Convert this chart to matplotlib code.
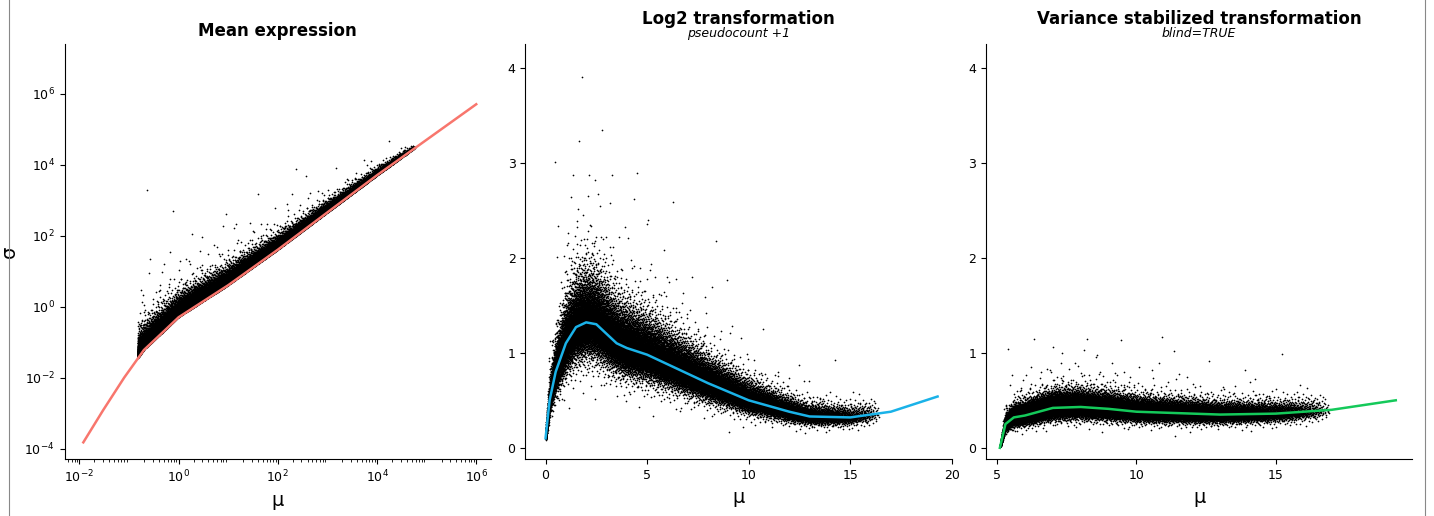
import numpy as np
import matplotlib.pyplot as plt

# trend lines
mean_mu = [0.012, 0.03, 0.08, 0.2, 0.5, 1, 10, 100, 1e3, 1e4, 1e5, 1e6]
mean_sd = [1.5e-4, 1.2e-3, 1e-2, 0.06, 0.2, 0.5, 4, 40, 450, 5e3, 5e4, 5e5]

log2_mu = [0, 0.2, 0.5, 1, 1.5, 2, 2.5, 3, 3.5, 4, 5, 6, 7, 8, 10, 12, 13, 15, 17, 19.3]
log2_sd = [0.1, 0.5, 0.8, 1.1, 1.27, 1.32, 1.3, 1.2, 1.1, 1.05, 0.98, 0.88, 0.78, 0.68, 0.5, 0.38, 0.33, 0.32, 0.38, 0.54]

vst_mu = [5.1, 5.3, 5.6, 6.0, 7.0, 8.0, 9.0, 10, 12, 13, 15, 17, 19.3]
vst_sd = [0.0, 0.25, 0.32, 0.34, 0.42, 0.43, 0.41, 0.38, 0.36, 0.35, 0.36, 0.4, 0.5]

# cloud shape per panel: x-range, taper power, relative spread
cloud_cfg = {
    "mean": dict(lo=np.log10(0.15), hi=np.log10(6e4), p=1.6, spread=0.3),
    "log2": dict(lo=0.0, hi=16.5, p=1.9, spread=0.22),
    "vst": dict(lo=5.1, hi=17.0, p=2.0, spread=0.2),
}
N_PTS = 30000


def halton(n, base):
    seq = np.zeros(n)
    for i in range(n):
        f, r, k = 1.0, 0.0, i + 1
        while k > 0:
            f /= base
            r += f * (k % base)
            k //= base
        seq[i] = r
    return seq


u1 = halton(N_PTS, 2)
u2 = halton(N_PTS, 3)
u3 = halton(N_PTS, 5)


def cloud(cfg, tx, ty, logy=False):
    t = 1 - (1 - u1) ** (1 / cfg["p"])
    x = cfg["lo"] + (cfg["hi"] - cfg["lo"]) * t
    z = np.log(u2 / (1 - u2)) * 0.5
    z = np.where(z < 0, z * 0.6, z * (1 + 3.0 * (u3 > 0.985)))
    if logy:
        base = 10 ** np.interp(x, np.log10(tx), np.log10(ty))
        y = base * 10 ** (cfg["spread"] * (np.abs(z) * 0.8 + 0.05) * np.clip(1.2 - 0.2 * x, 0.25, None))
    else:
        base = np.interp(x, tx, ty)
        y = np.clip(base * (1 + cfg["spread"] * z), 0.02, 3.9)
    return x, y


fig, axes = plt.subplots(1, 3, figsize=(14.34, 5.16), dpi=100)
fig.subplots_adjust(left=0.045, right=0.985, top=0.915, bottom=0.11, wspace=0.08)

# panel 1
ax = axes[0]
cx, cy = cloud(cloud_cfg["mean"], mean_mu, mean_sd, logy=True)
ax.scatter(10 ** cx, cy, s=1.5, c="black", lw=0)
ax.plot(mean_mu, mean_sd, color="#F8766D", lw=1.8)
ax.set_xscale("log")
ax.set_yscale("log")
ax.set_xlim(10 ** -2.3, 10 ** 6.3)
ax.set_ylim(10 ** -4.3, 10 ** 7.4)
ax.set_xticks([1e-2, 1, 1e2, 1e4, 1e6])
ax.set_yticks([1e-4, 1e-2, 1, 1e2, 1e4, 1e6])
ax.set_title("Mean expression", fontweight="bold", fontsize=12)
ax.set_ylabel("σ", fontsize=14)

# panel 2
ax = axes[1]
cx, cy = cloud(cloud_cfg["log2"], log2_mu, log2_sd)
ax.scatter(cx, cy, s=1.5, c="black", lw=0)
ax.plot(log2_mu, log2_sd, color="#1AB2E8", lw=1.8)
ax.set_xlim(-1, 20)
ax.set_ylim(-0.12, 4.25)
ax.set_xticks([0, 5, 10, 15, 20])
ax.set_yticks([0, 1, 2, 3, 4])
ax.set_title("Log2 transformation", fontweight="bold", fontsize=12, pad=14)
ax.text(0.5, 1.01, "pseudocount +1", transform=ax.transAxes, ha="center", va="bottom", style="italic", fontsize=9)

# panel 3
ax = axes[2]
cx, cy = cloud(cloud_cfg["vst"], vst_mu, vst_sd)
ax.scatter(cx, cy, s=1.5, c="black", lw=0)
ax.plot(vst_mu, vst_sd, color="#14C95A", lw=1.8)
ax.set_xlim(4.6, 19.9)
ax.set_ylim(-0.12, 4.25)
ax.set_xticks([5, 10, 15])
ax.set_yticks([0, 1, 2, 3, 4])
ax.set_title("Variance stabilized transformation", fontweight="bold", fontsize=12, pad=14)
ax.text(0.5, 1.01, "blind=TRUE", transform=ax.transAxes, ha="center", va="bottom", style="italic", fontsize=9)

for ax in axes:
    ax.spines["top"].set_visible(False)
    ax.spines["right"].set_visible(False)
    ax.set_xlabel("μ", fontsize=14)
    ax.tick_params(labelsize=9, direction="out")

fig.add_artist(plt.Line2D([0.006, 0.006], [0, 1], color="#888888", lw=0.8))
fig.add_artist(plt.Line2D([0.994, 0.994], [0, 1], color="#888888", lw=0.8))
fig.savefig("out.png", dpi=100)
